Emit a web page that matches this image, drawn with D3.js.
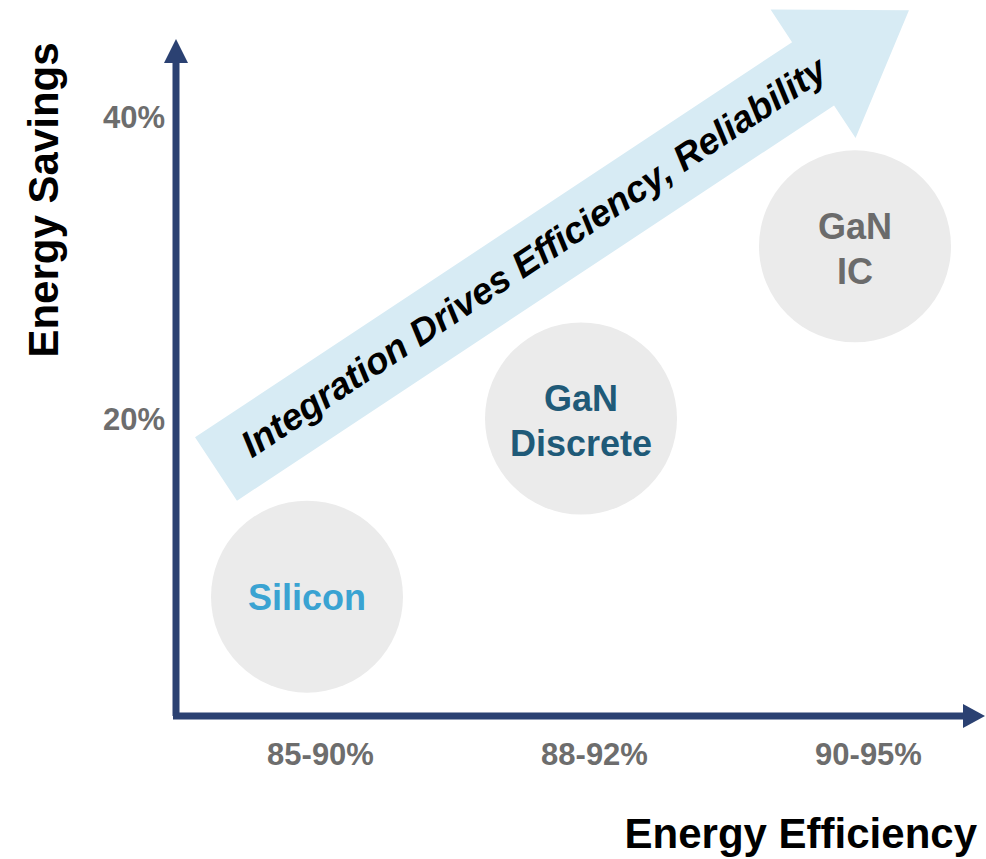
<!DOCTYPE html>
<html>
<head>
<meta charset="utf-8">
<script src="https://cdn.jsdelivr.net/npm/d3@7"></script>
<style>
  body { margin: 0; background: #fff; }
  svg { font-family: "Liberation Sans", Arial, sans-serif; }
</style>
</head>
<body>
<div class="gainChart"></div>
<script>
// data
const technologies = ['Silicon', 'GaN Discrete', 'GaN IC'];
const efficiencyLabels = ['85-90%', '88-92%', '90-95%'];
const savingsValues = [8.3, 20.1, 31.5];
const savingsTicks = [20, 40];
const trendText = 'Integration Drives Efficiency, Reliability';

function gainChart() {
    const width = 986;
    const height = 859;
    const axisColor = '#2b4172';
    const tickColor = '#6d6d6d';
    const labelColors = { 'Silicon': '#3aa3d2', 'GaN Discrete': '#1f5a78', 'GaN IC': '#6b6b6b' };

    const svg = d3.select('.gainChart')
        .append('svg')
        .attr('width', width)
        .attr('height', height);

    // scales
    const scaleX = d3.scalePoint()
        .domain(efficiencyLabels)
        .range([307, 855]);

    const scaleY = d3.scaleLinear()
        .domain([0, 40])
        .range([722, 118]);

    // big trend arrow (annotation)
    const arrow = svg.append('g')
        .attr('transform', 'translate(216, 469) rotate(-33.5)');
    arrow.append('polygon')
        .attr('points', [[0, -38], [716, -38], [716, -77], [831, 0], [716, 77], [716, 38], [0, 38]].join(' '))
        .attr('fill', '#d7ebf4');
    arrow.append('text')
        .attr('x', 382)
        .attr('y', 11)
        .attr('text-anchor', 'middle')
        .style('font-size', '37px')
        .style('font-weight', 'bold')
        .style('font-style', 'italic')
        .attr('fill', '#000')
        .text(trendText);

    // circles
    const nodes = technologies.map((t, i) => ({ name: t, eff: efficiencyLabels[i], saving: savingsValues[i] }));
    const bubble = svg.append('g')
        .selectAll('g')
        .data(nodes)
        .join('g')
        .attr('transform', d => `translate(${scaleX(d.eff)}, ${scaleY(d.saving)})`);
    bubble.append('circle')
        .attr('r', 96)
        .attr('fill', '#ebebeb');
    bubble.append('text')
        .attr('text-anchor', 'middle')
        .style('font-size', '36px')
        .style('font-weight', 'bold')
        .attr('fill', d => labelColors[d.name])
        .each(function(d) {
            const words = d.name.split(' ');
            const start = words.length > 1 ? -7 : 13;
            d3.select(this).selectAll('tspan')
                .data(words)
                .join('tspan')
                .attr('x', 0)
                .attr('y', (w, j) => start + j * 45)
                .text(w => w);
        });

    // axes
    const yAxis = svg.append('g')
        .attr('transform', 'translate(176, 0)')
        .call(d3.axisLeft(scaleY).tickValues(savingsTicks).tickSize(0).tickPadding(11).tickFormat(d => d + '%'));
    const xAxis = svg.append('g')
        .attr('transform', 'translate(13, 716)')
        .call(d3.axisBottom(scaleX).tickSize(0).tickPadding(27));
    [yAxis, xAxis].forEach(a => {
        a.select('.domain').remove();
        a.selectAll('text')
            .style('font-family', '"Liberation Sans", Arial, sans-serif')
            .style('font-size', '31px')
            .style('font-weight', 'bold')
            .attr('fill', tickColor);
    });

    // axis arrows
    svg.append('line')
        .attr('x1', 176).attr('y1', 716)
        .attr('x2', 176).attr('y2', 60)
        .attr('stroke', axisColor).attr('stroke-width', 7);
    svg.append('polygon')
        .attr('points', '164,63 188,63 176,39')
        .attr('fill', axisColor);
    svg.append('line')
        .attr('x1', 173).attr('y1', 716)
        .attr('x2', 966).attr('y2', 716)
        .attr('stroke', axisColor).attr('stroke-width', 7);
    svg.append('polygon')
        .attr('points', '963,704 963,728 985,716')
        .attr('fill', axisColor);

    // axis titles
    svg.append('text')
        .attr('transform', 'translate(58, 200) rotate(-90)')
        .attr('text-anchor', 'middle')
        .style('font-size', '42px')
        .style('font-weight', 'bold')
        .text('Energy Savings');
    svg.append('text')
        .attr('x', 977)
        .attr('y', 848)
        .attr('text-anchor', 'end')
        .style('font-size', '42px')
        .style('font-weight', 'bold')
        .text('Energy Efficiency');
}

gainChart();
</script>
</body>
</html>
